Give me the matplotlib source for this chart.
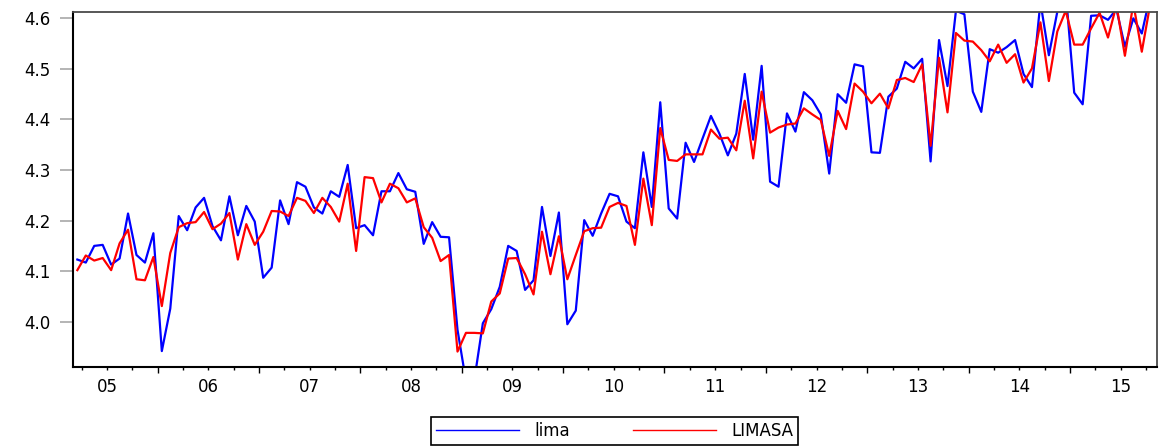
import numpy as np
import matplotlib.pyplot as plt

# monthly observations, first one sits half a quarter before the "05" tick
lima = [
    4.123, 4.117, 4.150, 4.152, 4.113, 4.125, 4.214, 4.132, 4.117, 4.175,
    3.942, 4.026, 4.209, 4.181, 4.226, 4.245, 4.189, 4.161, 4.248, 4.171,
    4.229, 4.198, 4.087, 4.107, 4.240, 4.193, 4.276, 4.267, 4.226, 4.214,
    4.258, 4.247, 4.310, 4.185, 4.191, 4.171, 4.258, 4.258, 4.294, 4.262,
    4.257, 4.154, 4.197, 4.168, 4.167, 3.984, 3.883, 3.886, 3.997, 4.025,
    4.069, 4.150, 4.140, 4.063, 4.082, 4.227, 4.130, 4.216, 3.995, 4.022,
    4.201, 4.170, 4.214, 4.253, 4.248, 4.198, 4.185, 4.335, 4.227, 4.434,
    4.224, 4.204, 4.354, 4.316, 4.362, 4.407, 4.372, 4.329, 4.372, 4.490,
    4.360, 4.506, 4.277, 4.267, 4.412, 4.376, 4.454, 4.438, 4.410, 4.293,
    4.450, 4.433, 4.509, 4.505, 4.335, 4.334, 4.445, 4.461, 4.514, 4.501,
    4.520, 4.317, 4.557, 4.466, 4.615, 4.608, 4.455, 4.415, 4.539, 4.532,
    4.543, 4.557, 4.490, 4.464, 4.632, 4.527, 4.613, 4.651, 4.453, 4.430,
    4.605, 4.606, 4.597, 4.618, 4.544, 4.600, 4.570, 4.645,
]
limasa = [
    4.102, 4.131, 4.121, 4.126, 4.102, 4.155, 4.182, 4.084, 4.082, 4.128,
    4.031, 4.136, 4.187, 4.195, 4.197, 4.217, 4.183, 4.194, 4.215, 4.123,
    4.193, 4.152, 4.178, 4.219, 4.218, 4.209, 4.245, 4.239, 4.215, 4.245,
    4.227, 4.198, 4.273, 4.140, 4.286, 4.284, 4.236, 4.273, 4.264, 4.236,
    4.244, 4.187, 4.166, 4.120, 4.132, 3.941, 3.978, 3.978, 3.977, 4.040,
    4.056, 4.125, 4.126, 4.094, 4.054, 4.178, 4.094, 4.169, 4.084, 4.132,
    4.179, 4.185, 4.186, 4.227, 4.235, 4.229, 4.152, 4.283, 4.191, 4.383,
    4.320, 4.318, 4.331, 4.331, 4.331, 4.380, 4.362, 4.364, 4.339, 4.437,
    4.323, 4.455, 4.374, 4.384, 4.390, 4.392, 4.422, 4.410, 4.399, 4.328,
    4.417, 4.381, 4.471, 4.455, 4.432, 4.451, 4.422, 4.478, 4.482, 4.474,
    4.509, 4.348, 4.522, 4.414, 4.571, 4.556, 4.554, 4.537, 4.515, 4.548,
    4.512, 4.529, 4.473, 4.501, 4.592, 4.476, 4.574, 4.615, 4.548, 4.548,
    4.580, 4.611, 4.562, 4.626, 4.526, 4.629, 4.534, 4.628,
]
year_labels = ['05', '06', '07', '08', '09', '10', '11', '12', '13', '14', '15']
y_ticks = [4.0, 4.1, 4.2, 4.3, 4.4, 4.5, 4.6]

plt.rcParams['font.family'] = ['DejaVu Sans']

W, H = 1161, 446
fig = plt.figure(figsize=(W / 100, H / 100), dpi=100)
ax = fig.add_axes([72.7 / W, 1 - 366.5 / H, (1157 - 72.7) / W, (366.5 - 12) / H])

t = np.arange(len(lima))
ax.plot(t, lima, color='#0000ff', lw=1.6, label='lima')
ax.plot(t, limasa, color='#ff0000', lw=1.6, label='LIMASA')

ax.set_xlim(-0.55, 127.8)
ax.set_ylim(3.9115, 4.6125)

# y axis: grey ticks sticking out to the left
ax.set_yticks(y_ticks)
ax.set_yticklabels([f'{v:.1f}' for v in y_ticks])
ax.tick_params(axis='y', direction='out', length=9.3, width=1.1,
               color='#a0a0a0', pad=6.5, labelsize=12)

# x axis: long ticks at year boundaries, short quarterly ticks,
# year labels centred under the mid-year tick
quarters = 0.5 + 3 * np.arange(43)
year_edges = [q for q in quarters if (q - 9.5) % 12 == 0]
other_q = [q for q in quarters if (q - 9.5) % 12 != 0]
label_pos = {3.5 + 12 * i: lab for i, lab in enumerate(year_labels)}
ax.set_xticks(year_edges)
ax.set_xticklabels([])
ax.set_xticks(other_q, minor=True)
ax.set_xticklabels([label_pos.get(q, '') for q in other_q], minor=True)
ax.tick_params(axis='x', which='major', direction='out', length=4.5,
               width=1.0, color='black')
ax.tick_params(axis='x', which='minor', direction='out', length=2.2,
               width=1.0, color='black', pad=6, labelsize=12)

for side in ['left', 'bottom']:
    ax.spines[side].set_color('black')
    ax.spines[side].set_linewidth(1.5)
for side in ['top', 'right']:
    ax.spines[side].set_color('#4a4a4a')
    ax.spines[side].set_linewidth(1.3)

leg = fig.legend(loc='upper center', bbox_to_anchor=(614.5 / W, 1 - 417 / H),
                 borderaxespad=0, ncol=2, fontsize=12, frameon=True,
                 fancybox=False, borderpad=0.3, handlelength=5.0,
                 handletextpad=0.9, columnspacing=3.8, framealpha=1)
leg.get_frame().set_edgecolor('black')
leg.get_frame().set_linewidth(1.2)
for h in leg.get_lines():
    h.set_linewidth(1.0)

fig.savefig('out.png', dpi=100)
